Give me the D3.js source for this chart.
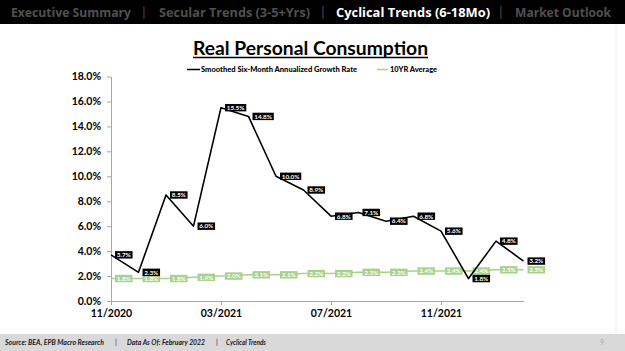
<!DOCTYPE html>
<html>
<head>
<meta charset="utf-8">
<script src="https://cdn.jsdelivr.net/npm/d3@7"></script>
<style>
  body { margin: 0; background: #fff; }
  svg { display: block; font-family: Lato, "Open Sans", sans-serif; }
</style>
</head>
<body>
<svg id="chart" width="625" height="351"></svg>
<script>
// data
var months = ["11/2020", "12/2020", "01/2021", "02/2021", "03/2021", "04/2021", "05/2021", "06/2021",
              "07/2021", "08/2021", "09/2021", "10/2021", "11/2021", "12/2021", "01/2022", "02/2022"];
var growth = [3.7, 2.3, 8.5, 6.0, 15.5, 14.8, 10.0, 8.9, 6.8, 7.1, 6.4, 6.8, 5.6, 1.8, 4.8, 3.2];
var avg10 = [1.8, 1.8, 1.8, 1.9, 2.0, 2.1, 2.1, 2.2, 2.2, 2.3, 2.3, 2.4, 2.4, 2.4, 2.5, 2.5];
var yTicks = [0, 2, 4, 6, 8, 10, 12, 14, 16, 18];
var xTicks = ["11/2020", "03/2021", "07/2021", "11/2021"];
var seriesNames = ["Smoothed Six-Month Annualized Growth Rate", "10YR Average"];
var navItems = ["Executive Summary", "Secular Trends (3-5+Yrs)", "Cyclical Trends (6-18Mo)", "Market Outlook"];
var footItems = ["Source: BEA, EPB Macro Research", "Data As Of: February 2022", "Cyclical Trends"];

var svg = d3.select("#chart");
var black = "#000000", green = "#a9d18e";

// header bar
svg.append("rect").attr("x", 0).attr("y", 0).attr("width", 625).attr("height", 24).attr("fill", "#000");
var navX = [[11, 120], [159, 151], [336, 154], [515, 96]];
var sepX = [144, 323, 501];
navItems.forEach(function (t, i) {
  svg.append("text").attr("x", navX[i][0]).attr("y", 17)
    .attr("textLength", navX[i][1]).attr("lengthAdjust", "spacingAndGlyphs")
    .style("font-family", "'Open Sans', sans-serif").style("font-weight", "bold").style("font-size", "13px")
    .attr("fill", i == 2 ? "#fff" : "#505050").text(t);
});
sepX.forEach(function (x) {
  svg.append("text").attr("x", x).attr("y", 17).attr("text-anchor", "middle")
    .style("font-size", "13px").attr("fill", "#505050").text("|");
});

// slide edge + footer
svg.append("line").attr("x1", 616).attr("x2", 616).attr("y1", 24).attr("y2", 334).attr("stroke", "#ececec");
svg.append("rect").attr("x", 0).attr("y", 334).attr("width", 625).attr("height", 17).attr("fill", "#d9d9d9");
var footX = [[5, 99], [127, 78], [226, 40]];
footItems.forEach(function (t, i) {
  svg.append("text").attr("x", footX[i][0]).attr("y", 344.5)
    .attr("textLength", footX[i][1]).attr("lengthAdjust", "spacingAndGlyphs")
    .style("font-size", "7px").style("font-weight", "bold").style("font-style", "italic").attr("fill", "#1a1a1a")
    .text(t);
});
[116, 217].forEach(function (x) {
  svg.append("text").attr("x", x).attr("y", 344.5).attr("text-anchor", "middle")
    .style("font-size", "7px").style("font-style", "italic").attr("fill", "#1a1a1a").text("|");
});
svg.append("text").attr("x", 600).attr("y", 344.5).style("font-size", "7px").attr("fill", "#aaa").text("9");

// title
svg.append("text").attr("x", 193).attr("y", 55).attr("textLength", 235).attr("lengthAdjust", "spacingAndGlyphs")
  .style("font-size", "19px").style("font-weight", "bold").attr("fill", "#000").text("Real Personal Consumption");
svg.append("line").attr("x1", 193).attr("x2", 428).attr("y1", 57.5).attr("y2", 57.5).attr("stroke", "#000").attr("stroke-width", 1.3);

// legend
svg.append("line").attr("x1", 187).attr("x2", 200).attr("y1", 69.5).attr("y2", 69.5).attr("stroke", black).attr("stroke-width", 1.5);
svg.append("text").attr("x", 201).attr("y", 72).attr("textLength", 156).attr("lengthAdjust", "spacingAndGlyphs")
  .style("font-size", "7.2px").style("font-weight", "900").text(seriesNames[0]);
svg.append("line").attr("x1", 377).attr("x2", 388).attr("y1", 69.5).attr("y2", 69.5).attr("stroke", green).attr("stroke-width", 1.5);
svg.append("text").attr("x", 390).attr("y", 72).attr("textLength", 47).attr("lengthAdjust", "spacingAndGlyphs")
  .style("font-size", "7.2px").style("font-weight", "900").text(seriesNames[1]);

// scales
var x = d3.scalePoint().domain(months).range([111, 523.5]);
var y = d3.scaleLinear().domain([0, 18]).range([301, 76.5]);

var yAxis = svg.append("g").attr("transform", "translate(111,0)")
  .call(d3.axisLeft(y).tickValues(yTicks).tickSize(4).tickSizeOuter(0).tickFormat(function (d) { return d.toFixed(1) + "%"; }));
var xAxis = svg.append("g").attr("transform", "translate(0,301)")
  .call(d3.axisBottom(x).tickValues(xTicks).tickSize(4).tickSizeOuter(0));
[yAxis, xAxis].forEach(function (a) {
  a.select(".domain").attr("stroke", "#a6a6a6");
  a.selectAll(".tick line").attr("stroke", "#a6a6a6");
  a.selectAll("text").style("font-family", "Lato, sans-serif").style("font-size", "10.5px")
    .style("font-weight", "bold").attr("fill", "#000");
});
yAxis.selectAll("text").attr("x", -10);
xAxis.selectAll("text").attr("y", 9);

// series
function drawSeries(vals, color, textColor) {
  svg.append("path").datum(vals)
    .attr("fill", "none").attr("stroke", color).attr("stroke-width", 1.6).attr("stroke-linejoin", "round")
    .attr("d", d3.line().x(function (d, i) { return x(months[i]); }).y(function (d) { return y(d); }));
  var lab = svg.append("g").selectAll("g").data(vals).enter().append("g")
    .attr("transform", function (d, i) { return "translate(" + (x(months[i]) + 4) + "," + y(d) + ")"; });
  lab.append("rect").attr("y", -3.7).attr("height", 7.4).attr("fill", color);
  lab.append("text").attr("x", 1.7).attr("y", 2.3)
    .style("font-size", "6.4px").style("font-weight", "bold").attr("fill", textColor)
    .text(function (d) { return d.toFixed(1) + "%"; });
  lab.each(function () {
    var w = d3.select(this).select("text").node().getComputedTextLength();
    d3.select(this).select("rect").attr("width", w + 3.4);
  });
}
drawSeries(avg10, green, "#fff");
drawSeries(growth, black, "#fff");
</script>
</body>
</html>
